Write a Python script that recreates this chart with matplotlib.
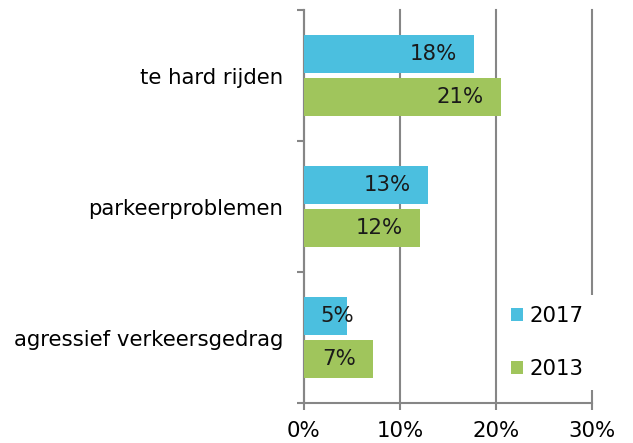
import numpy as np
from matplotlib import pyplot as plt
from matplotlib.ticker import FixedLocator, PercentFormatter

categories = ['te hard rijden', 'parkeerproblemen', 'agressief verkeersgedrag']
values_2017 = [17.7, 12.9, 4.5]
values_2013 = [20.5, 12.1, 7.2]
labels_2017 = ['18%', '13%', '5%']
labels_2013 = ['21%', '12%', '7%']
series_names = ['2017', '2013']

color_2017 = '#4bbfdf'
color_2013 = '#a0c55c'
axis_grey = '#868686'
font_size = 15.3

plt.rcParams['font.family'] = ['DejaVu Sans']

fig = plt.figure(figsize=(6.33, 4.43), dpi=100)
ax = fig.add_axes([0.480, 0.0903, 0.455, 0.887])

y = np.arange(len(categories))
bar_h = 0.29
offset = 0.163

bars_a = ax.barh(y - offset, values_2017, height=bar_h, color=color_2017, label=series_names[0], zorder=3)
bars_b = ax.barh(y + offset, values_2013, height=bar_h, color=color_2013, label=series_names[1], zorder=3)


def put_labels(bars, vals, texts):
    for bar, v, t in zip(bars, vals, texts):
        yc = bar.get_y() + bar.get_height() / 2
        if v < 6:
            # too short for inside end, Excel pushes it to the start
            ax.annotate(t, (0, yc), xytext=(17, 0), textcoords='offset pixels',
                        ha='left', va='center', fontsize=font_size, color='#1a1a1a', zorder=4)
        else:
            ax.annotate(t, (v, yc), xytext=(-17, 0), textcoords='offset pixels',
                        ha='right', va='center', fontsize=font_size, color='#1a1a1a', zorder=4)


put_labels(bars_a, values_2017, labels_2017)
put_labels(bars_b, values_2013, labels_2013)

ax.set_xlim(0, 30)
ax.set_ylim(2.5, -0.5)
ax.set_xticks([0, 10, 20, 30])
ax.xaxis.set_major_formatter(PercentFormatter(decimals=0))
ax.set_yticks(y)
ax.set_yticklabels(categories)
ax.yaxis.set_minor_locator(FixedLocator([-0.5, 0.5, 1.5, 2.5]))

ax.tick_params(axis='y', which='major', length=0, pad=15, labelsize=font_size)
ax.tick_params(axis='y', which='minor', length=5, width=1.5, color=axis_grey, direction='out')
ax.tick_params(axis='x', which='major', length=5, width=1.5, color=axis_grey, pad=8, labelsize=font_size)

ax.grid(axis='x', color=axis_grey, linewidth=1.5, zorder=1)
for gl in ax.get_xgridlines():
    gl.set_clip_on(False)
ax.set_axisbelow(True)

for side in ['top', 'right']:
    ax.spines[side].set_visible(False)
for side in ['left', 'bottom']:
    ax.spines[side].set_color(axis_grey)
    ax.spines[side].set_linewidth(1.5)

leg = ax.legend(loc='upper left', bbox_to_anchor=(0.683, 0.274), borderaxespad=0, borderpad=0.5,
                frameon=True, fancybox=False, edgecolor='none', facecolor='white', framealpha=1,
                fontsize=font_size, handlelength=0.565, handleheight=0.565, handletextpad=0.3,
                labelspacing=1.55)
leg.set_zorder(5)

fig.savefig('out.png', dpi=100)
